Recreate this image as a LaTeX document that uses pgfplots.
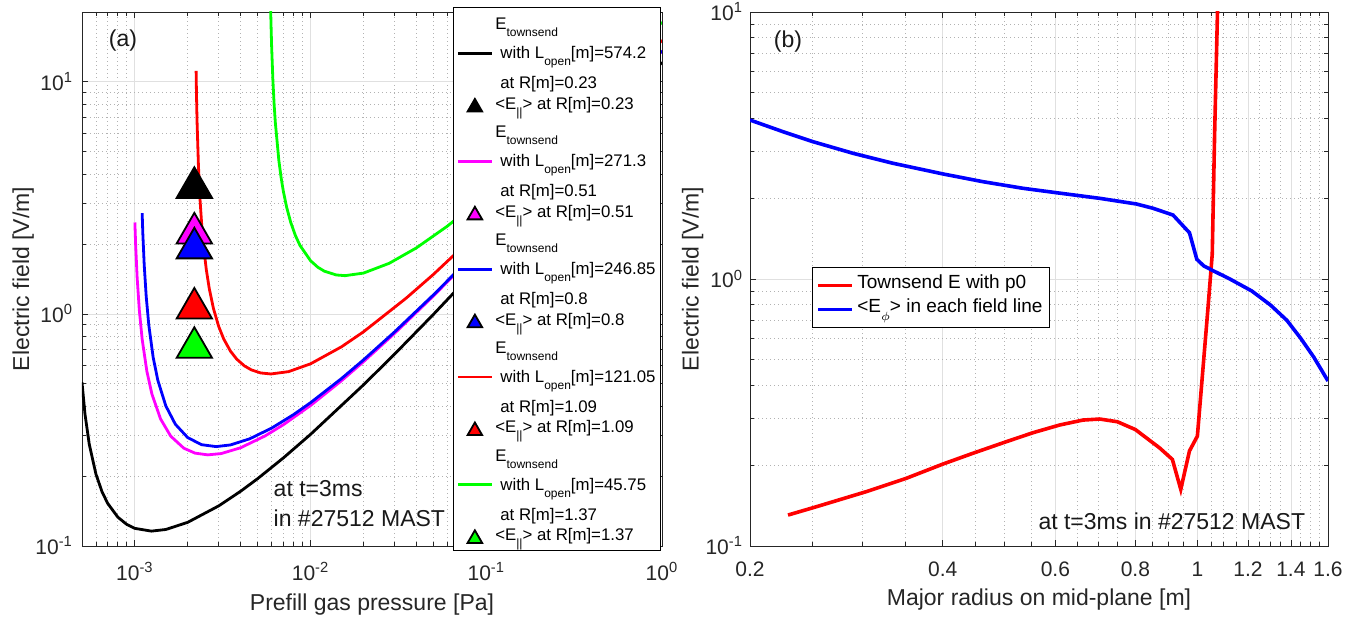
\documentclass[border=0pt]{standalone}
\usepackage{fontspec}
\setmainfont{Liberation Sans}
\usepackage{pgfplots}
\pgfplotsset{compat=1.18}
\definecolor{mmag}{RGB}{255,0,255}
\definecolor{mgreen}{RGB}{0,255,0}
\definecolor{mred}{RGB}{255,0,0}
\definecolor{mblue}{RGB}{0,0,255}

\newcommand{\lsub}[1]{\raisebox{-0.42em}{\fontsize{6}{7}\selectfont #1}}
\newcommand{\townentry}[2]{\begin{tabular}{@{}l@{}}E\lsub{townsend}\\\hspace*{0.3em}with L\lsub{open}[m]=#1\\\hspace*{0.3em}at R[m]=#2\end{tabular}}
\newcommand{\eentry}[1]{\raisebox{0pt}[6pt][4pt]{<E\lsub{||}> at R[m]=#1}}

\begin{document}
\begin{tikzpicture}
\useasboundingbox (0pt,0pt) rectangle (685pt,313pt);
% ---------------- left panel ----------------
\begin{axis}[
  scale only axis, xmode=log, ymode=log,
  grid=both,
  major grid style={line width=0.4pt, black!12},
  minor grid style={line width=0.4pt, black!30, dash pattern=on 0.5pt off 1.5pt},
  axis line style={black!85, line width=0.45pt},
  tick style={black!85, line width=0.4pt},
  major tick length=3pt, minor tick length=2pt,
  tick align=inside,
  at={(41pt,40pt)}, anchor=south west,
  width=290pt, height=267pt,
  xmin=5e-4, xmax=1, ymin=0.1, ymax=20,
  xtick={1e-3,1e-2,1e-1,1},
  xticklabels={10\textsuperscript{-3},10\textsuperscript{-2},10\textsuperscript{-1},10\textsuperscript{0}},
  ytick={0.1,1,10},
  yticklabels={10\textsuperscript{-1},10\textsuperscript{0},10\textsuperscript{1}},
  minor xtick={6e-4,7e-4,8e-4,9e-4,2e-3,3e-3,4e-3,5e-3,6e-3,7e-3,8e-3,9e-3,2e-2,3e-2,4e-2,5e-2,6e-2,7e-2,8e-2,9e-2,0.2,0.3,0.4,0.5,0.6,0.7,0.8,0.9},
  minor ytick={0.2,0.3,0.4,0.5,0.6,0.7,0.8,0.9,2,3,4,5,6,7,8,9,20},
  tick label style={font=\fontsize{10.5}{12}\selectfont, text=black!85},
  xticklabel shift=4.5pt,
  yticklabel shift=1pt,
  xlabel={Prefill gas pressure [Pa]},
  ylabel={Electric field [V/m]},
  label style={font=\fontsize{11.5}{13}\selectfont, text=black!85},
  xlabel style={at={(axis description cs:0.5,0)}, anchor=base, yshift=-32pt},
  ylabel style={at={(axis description cs:-0.0912,0.5)}, anchor=base, rotate=0},
  legend cell align=left,
  legend style={at={(0.9983,1.0094)}, anchor=north east, draw=black, fill=white,
    line width=0.5pt, inner xsep=1.5pt, inner ysep=1pt, row sep=0pt,
    font=\fontsize{8.4}{14.5}\selectfont,
    nodes={inner xsep=1pt, inner ysep=0pt, text depth=}},
]
% black
\addplot[black, line width=1.4pt] coordinates {
(5.0e-4,0.5076) (5.2e-4,0.370) (5.5e-4,0.2744) (6.0e-4,0.2044) (6.5e-4,0.1714) (7.0e-4,0.1527) (8.0e-4,0.1331) (9e-4,0.1238) (1.0e-3,0.1191) (1.24e-3,0.1159) (1.5e-3,0.1178) (2e-3,0.1265) (3e-3,0.1489) (4e-3,0.1722) (5e-3,0.1952) (7e-3,0.2396) (1e-2,0.3028) (2e-2,0.4946) (3e-2,0.670) (5e-2,0.9953) (0.1,1.7346) (0.2,3.074) (0.3,4.323) (0.5,6.679) (1,12.154)};
\addlegendentry{\townentry{574.2}{0.23}}
\addplot[only marks, mark=triangle*, mark size=10.2pt, mark options={fill=black, draw=black, line width=0.9pt}, legend image post style={mark size=4.2pt}] coordinates {(2.18e-3,3.50)};
\addlegendentry{\eentry{0.23}}
% magenta
\addplot[mmag, line width=1.4pt] coordinates {
(1.0e-3,2.477) (1.01e-3,1.9836) (1.03e-3,1.4367) (1.06e-3,1.0381) (1.1e-3,0.7782) (1.17e-3,0.5660) (1.25e-3,0.4516) (1.4e-3,0.3528) (1.6e-3,0.2973) (1.9e-3,0.2638) (2.2e-3,0.2513) (2.6e-3,0.2470) (3.1e-3,0.2502) (4e-3,0.2651) (5.5e-3,0.2979) (7e-3,0.3331) (1e-2,0.4033) (1.5e-2,0.5156) (2e-2,0.6223) (3e-2,0.8234) (5e-2,1.1949) (0.1,2.0330) (0.2,3.5379) (0.5,7.5487) (1,13.591)};
\addlegendentry{\townentry{271.3}{0.51}}
\addplot[only marks, mark=triangle*, mark size=10.2pt, mark options={fill=mmag, draw=black, line width=0.9pt}, legend image post style={mark size=4.2pt}] coordinates {(2.18e-3,2.226)};
\addlegendentry{\eentry{0.51}}
% blue
\addplot[mblue, line width=1.4pt] coordinates {
(1.1e-3,2.7200) (1.11e-3,2.2105) (1.13e-3,1.6284) (1.16e-3,1.1893) (1.2e-3,0.8958) (1.27e-3,0.6518) (1.35e-3,0.5183) (1.5e-3,0.4015) (1.7e-3,0.3346) (2e-3,0.2930) (2.4e-3,0.2732) (2.9e-3,0.2681) (3.5e-3,0.2726) (4.5e-3,0.2896) (6e-3,0.3221) (8e-3,0.3684) (1e-2,0.4147) (1.5e-2,0.5269) (2e-2,0.6337) (3e-2,0.8353) (5e-2,1.2077) (0.1,2.0473) (0.2,3.5530) (0.5,7.5605) (1,13.62)};
\addlegendentry{\townentry{246.85}{0.8}}
\addplot[only marks, mark=triangle*, mark size=10.2pt, mark options={fill=mblue, draw=black, line width=0.9pt}, legend image post style={mark size=4.2pt}] coordinates {(2.18e-3,1.92)};
\addlegendentry{\eentry{0.8}}
% red
\addplot[mred, line width=1.4pt] coordinates {
(2.231e-3,11.14) (2.235e-3,10.175) (2.24e-3,9.189) (2.25e-3,7.708) (2.26e-3,6.651) (2.3e-3,4.346) (2.35e-3,3.086) (2.4e-3,2.427) (2.47e-3,1.901) (2.55e-3,1.5516) (2.65e-3,1.2871) (2.8e-3,1.0552) (3.0e-3,0.8827) (3.2e-3,0.7813) (3.5e-3,0.6912) (3.8e-3,0.6385) (4.2e-3,0.5972) (4.6e-3,0.5740) (5.2e-3,0.5568) (5.95e-3,0.5512) (7.5e-3,0.5642) (1e-2,0.6097) (1.5e-2,0.7219) (2e-2,0.8373) (3.5e-2,1.1694) (5e-2,1.4801) (0.1,2.4233) (0.2,4.1024) (0.5,8.5256) (1,15.121)};
\addlegendentry{\townentry{121.05}{1.09}}
\addplot[only marks, mark=triangle*, mark size=10.2pt, mark options={fill=mred, draw=black, line width=0.9pt}, legend image post style={mark size=4.2pt}] coordinates {(2.18e-3,1.057)};
\addlegendentry{\eentry{1.09}}
% green
\addplot[mgreen, line width=1.4pt] coordinates {
(5.93e-3,20.21) (5.95e-3,18.05) (6.0e-3,14.307) (6.1e-3,10.222) (6.2e-3,8.039) (6.3e-3,6.682) (6.6e-3,4.577) (6.8e-3,3.858) (7.0e-3,3.376) (7.3e-3,2.893) (7.7e-3,2.487) (8.2e-3,2.1745) (8.7e-3,1.9745) (1.0e-2,1.6948) (1.1e-2,1.5889) (1.2e-2,1.5274) (1.4e-2,1.4720) (1.57e-2,1.4618) (2.0e-2,1.4995) (2.8e-2,1.6521) (4e-2,1.9254) (6e-2,2.3880) (0.1,3.2673) (0.2,5.2571) (0.5,10.444) (1,18.079)};
\addlegendentry{\townentry{45.75}{1.37}}
\addplot[only marks, mark=triangle*, mark size=10.2pt, mark options={fill=mgreen, draw=black, line width=0.9pt}, legend image post style={mark size=4.2pt}] coordinates {(2.18e-3,0.716)};
\addlegendentry{\eentry{1.37}}

\node[font=\fontsize{11.5}{13}\selectfont, text=black!90] at (rel axis cs:0.0706,0.9457) {(a)};
\node[anchor=base west, font=\fontsize{11.5}{13}\selectfont, text=black!90] at (rel axis cs:0.3184,0.0918) {at t=3ms};
\node[anchor=base west, font=\fontsize{11.5}{13}\selectfont, text=black!90] at (rel axis cs:0.3184,0.0356) {in \#27512 MAST};
\end{axis}

% ---------------- right panel ----------------
\begin{axis}[
  scale only axis, xmode=log, ymode=log,
  grid=both,
  major grid style={line width=0.4pt, black!12},
  minor grid style={line width=0.4pt, black!30, dash pattern=on 0.5pt off 1.5pt},
  axis line style={black!85, line width=0.45pt},
  tick style={black!85, line width=0.4pt},
  major tick length=3pt, minor tick length=2pt,
  tick align=inside,
  at={(375pt,40pt)}, anchor=south west,
  width=289pt, height=267pt,
  xmin=0.2, xmax=1.6, ymin=0.1, ymax=10,
  xtick={0.2,0.4,0.6,0.8,1,1.2,1.4,1.6},
  xticklabels={0.2,0.4,0.6,0.8,1,1.2,1.4,1.6},
  ytick={0.1,1,10},
  yticklabels={10\textsuperscript{-1},10\textsuperscript{0},10\textsuperscript{1}},
  minor xtick={0.25,0.3,0.35,0.45,0.5,0.55,0.65,0.7,0.75,0.85,0.9,0.95,1.05,1.1,1.15,1.25,1.3,1.35,1.45,1.5,1.55},
  minor ytick={0.2,0.3,0.4,0.5,0.6,0.7,0.8,0.9,2,3,4,5,6,7,8,9},
  tick label style={font=\fontsize{10.5}{12}\selectfont, text=black!85},
  xticklabel shift=4.5pt,
  xlabel={Major radius on mid-plane [m]},
  ylabel={Electric field [V/m]},
  label style={font=\fontsize{11.5}{13}\selectfont, text=black!85},
  xlabel style={at={(axis description cs:0.5,0)}, anchor=base, yshift=-29.5pt},
  ylabel style={at={(axis description cs:-0.089,0.5)}, anchor=base, rotate=0},
  legend cell align=left,
  legend style={at={(0.1073,0.5225)}, anchor=north west, draw=black, fill=white,
    line width=0.5pt, inner xsep=2pt, inner ysep=3pt, row sep=0pt,
    font=\fontsize{9.5}{11}\selectfont,
    nodes={inner xsep=1.5pt, inner ysep=0pt, text depth=}},
]
\addplot[mred, line width=1.8pt] coordinates {
(0.2293,0.1306) (0.2539,0.1403) (0.3039,0.1598) (0.3509,0.1793) (0.4005,0.2028) (0.4460,0.2225) (0.5030,0.2459) (0.5537,0.2657) (0.6093,0.2839) (0.6627,0.2963) (0.7037,0.2989) (0.75,0.292) (0.8,0.273) (0.873,0.233) (0.914,0.211) (0.942,0.163) (0.972,0.227) (1.0,0.258) (1.039,0.781) (1.055,1.24) (1.064,3.48) (1.075,9.94) (1.078,12)};
\addlegendentry{\raisebox{0pt}[7.5pt][4.5pt]{Townsend E with p0}}
\addplot[mblue, line width=1.8pt] coordinates {
(0.2,3.94) (0.2252,3.562) (0.2508,3.268) (0.2897,2.957) (0.3345,2.713) (0.4005,2.474) (0.4625,2.314) (0.5341,2.186) (0.6019,2.105) (0.7037,2.005) (0.8028,1.910) (0.8526,1.840) (0.9161,1.736) (0.972,1.49) (0.998,1.185) (1.023,1.12) (1.055,1.078) (1.124,1.0) (1.216,0.902) (1.3,0.80) (1.38,0.70) (1.45,0.60) (1.52,0.51) (1.6,0.415)};
\addlegendentry{\raisebox{0pt}[7.5pt][4.5pt]{<E\lsub{$\phi$}> in each field line}}

\node[font=\fontsize{11.5}{13}\selectfont, text=black!90] at (rel axis cs:0.0657,0.944) {(b)};
\node[anchor=base east, font=\fontsize{11.5}{13}\selectfont, text=black!90] at (rel axis cs:0.9726,0.030) {at t=3ms in \#27512 MAST};
\end{axis}
\end{tikzpicture}
\end{document}
